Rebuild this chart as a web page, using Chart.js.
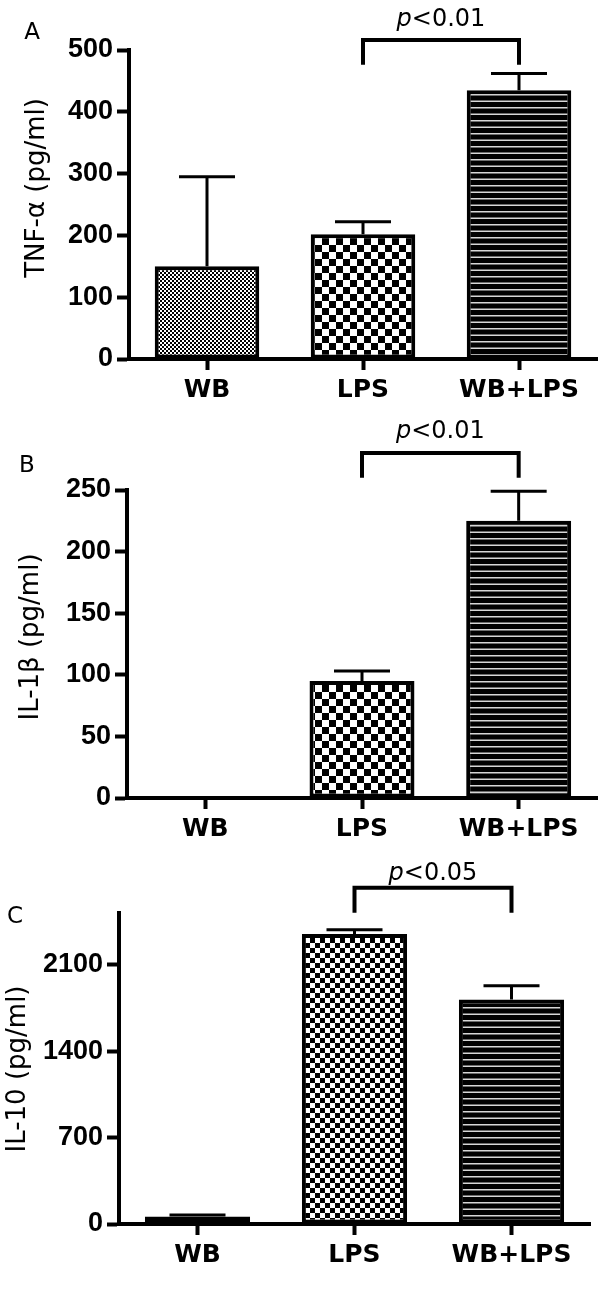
<!DOCTYPE html>
<html>
<head>
<meta charset="utf-8">
<script src="https://cdn.jsdelivr.net/npm/chart.js@4.4.1/dist/chart.umd.min.js"></script>
<style>
  body { margin: 0; background: #fff; }
  #wrap { position: relative; width: 600px; height: 1293px; }
  canvas { position: absolute; left: 0; }
</style>
</head>
<body>
<div id="wrap">
  <canvas id="chartA" width="600" height="405" style="top:0px"></canvas>
  <canvas id="chartB" width="600" height="443" style="top:405px"></canvas>
  <canvas id="chartC" width="600" height="445" style="top:848px"></canvas>
</div>
<script>
// data
const groups = ["WB", "LPS", "WB+LPS"];

const tnfMean = [150, 202, 435];
const tnfSem = [145, 20, 27];
const tnfTicks = [0, 100, 200, 300, 400, 500];

const il1bMean = [0, 95, 225];
const il1bSem = [0, 8, 24];
const il1bTicks = [0, 50, 100, 150, 200, 250];

const il10Mean = [60, 2350, 1820];
const il10Sem = [13, 35, 110];
const il10Ticks = [0, 700, 1400, 2100];

const pValues = ["<0.01", "<0.01", "<0.05"];

// bar fills
function makePattern(w, h, draw) {
  const c = document.createElement("canvas");
  c.width = w; c.height = h;
  draw(c.getContext("2d"));
  return c.getContext("2d").createPattern(c, "repeat");
}
function checker(n) {
  return makePattern(2 * n, 2 * n, g => {
    g.fillStyle = "#fff"; g.fillRect(0, 0, 2 * n, 2 * n);
    g.fillStyle = "#000"; g.fillRect(0, 0, n, n); g.fillRect(n, n, n, n);
  });
}
const stripes = makePattern(4, 13, g => {
  g.fillStyle = "#000"; g.fillRect(0, 0, 4, 13);
  g.fillStyle = "#d6d6d6"; g.fillRect(0, 3, 4, 1.5); g.fillRect(0, 9.5, 4, 1.5);
});

function annot(o) {
  return {
    id: "annot",
    afterDatasetsDraw(chart) {
      const ctx = chart.ctx, xs = chart.scales.x, ys = chart.scales.y;
      ctx.save();
      ctx.strokeStyle = "#000";
      ctx.fillStyle = "#000";
      // error bars (upper only)
      ctx.lineWidth = 3;
      chart.getDatasetMeta(0).data.forEach((bar, i) => {
        if (!o.sem[i]) return;
        const yTop = ys.getPixelForValue(o.mean[i] + o.sem[i]);
        ctx.beginPath();
        ctx.moveTo(bar.x, bar.y); ctx.lineTo(bar.x, yTop);
        ctx.moveTo(bar.x - 28, yTop); ctx.lineTo(bar.x + 28, yTop);
        ctx.stroke();
      });
      // significance bracket LPS vs WB+LPS
      const x1 = xs.getPixelForValue(1), x2 = xs.getPixelForValue(2);
      const yb = ys.getPixelForValue(o.bracket[0]), yt = ys.getPixelForValue(o.bracket[1]);
      ctx.lineWidth = 4;
      ctx.beginPath();
      ctx.moveTo(x1, yb); ctx.lineTo(x1, yt); ctx.lineTo(x2, yt); ctx.lineTo(x2, yb);
      ctx.stroke();
      ctx.textBaseline = "alphabetic";
      ctx.textAlign = "left";
      const fi = "italic 24px 'DejaVu Sans'", fr = "24px 'DejaVu Sans'";
      ctx.font = fi; const wp = ctx.measureText("p").width;
      ctx.font = fr; const wr = ctx.measureText(o.p).width;
      const sx = (x1 + x2) / 2 - (wp + wr) / 2, by = yt - o.pGap;
      ctx.font = fi; ctx.fillText("p", sx, by);
      ctx.font = fr; ctx.fillText(o.p, sx + wp, by);
      // panel letter
      ctx.font = "23px 'DejaVu Sans'";
      ctx.textAlign = "center"; ctx.textBaseline = "middle";
      ctx.fillText(o.letter, o.letterPos[0], o.letterPos[1]);
      // y title
      ctx.font = "26px 'DejaVu Sans'";
      ctx.translate(o.titlePos[0], o.titlePos[1]);
      ctx.rotate(-Math.PI / 2);
      ctx.fillText(o.title, 0, 0);
      ctx.restore();
    }
  };
}

function panel(id, o) {
  const cv = document.getElementById(id);
  const H = cv.height;
  return new Chart(cv, {
    type: "bar",
    data: {
      labels: groups,
      datasets: [{
        data: o.mean,
        backgroundColor: [checker(o.fine), checker(o.cell), stripes],
        borderColor: "#000",
        borderWidth: 4,
        borderSkipped: false,
        barPercentage: 0.67,
        categoryPercentage: 1
      }]
    },
    options: {
      responsive: false,
      animation: false,
      events: [],
      layout: { padding: { top: o.top, right: 600 - o.right, left: 0, bottom: 0 } },
      plugins: { legend: { display: false }, tooltip: { enabled: false } },
      scales: {
        x: {
          grid: { drawOnChartArea: false, offset: false, tickLength: 11, tickWidth: 4, color: "#000" },
          border: { color: "#000", width: 4 },
          ticks: { font: { family: "'DejaVu Sans'", weight: "bold", size: 25 }, color: "#000", padding: 5, maxRotation: 0 },
          afterFit: s => { s.height = H - o.bottom; }
        },
        y: {
          min: 0,
          max: o.max,
          afterBuildTicks: s => { s.ticks = o.ticks.map(v => ({ value: v })); },
          grid: { drawOnChartArea: false, tickLength: 12, tickWidth: 4, color: "#000" },
          border: { color: "#000", width: 4 },
          ticks: { font: { family: "'Liberation Sans', Arial", weight: "bold", size: 27 }, color: "#000", padding: 4, callback: v => String(v) },
          afterFit: s => { s.width = o.left; }
        }
      }
    },
    plugins: [annot(o)]
  });
}

panel("chartA", {
  mean: tnfMean, sem: tnfSem, ticks: tnfTicks, max: 500,
  top: 50, bottom: 359, left: 129, right: 597,
  fine: 2, cell: 7,
  bracket: [476, 516], p: pValues[0], pGap: 14,
  letter: "A", letterPos: [32, 33],
  title: "TNF-\u03b1 (pg/ml)", titlePos: [37, 188]
});
panel("chartB", {
  mean: il1bMean, sem: il1bSem, ticks: il1bTicks, max: 250,
  top: 85, bottom: 393, left: 127, right: 597,
  fine: 2, cell: 7,
  bracket: [260, 280], p: pValues[1], pGap: 15,
  letter: "B", letterPos: [27, 61],
  title: "IL-1\u03b2 (pg/ml)", titlePos: [31, 232]
});
panel("chartC", {
  mean: il10Mean, sem: il10Sem, ticks: il10Ticks, max: 2520,
  top: 65, bottom: 376, left: 119, right: 590,
  fine: 2, cell: 5,
  bracket: [2522, 2724], p: pValues[2], pGap: 8,
  letter: "C", letterPos: [15, 69],
  title: "IL-10 (pg/ml)", titlePos: [18, 221]
});
</script>
</body>
</html>
